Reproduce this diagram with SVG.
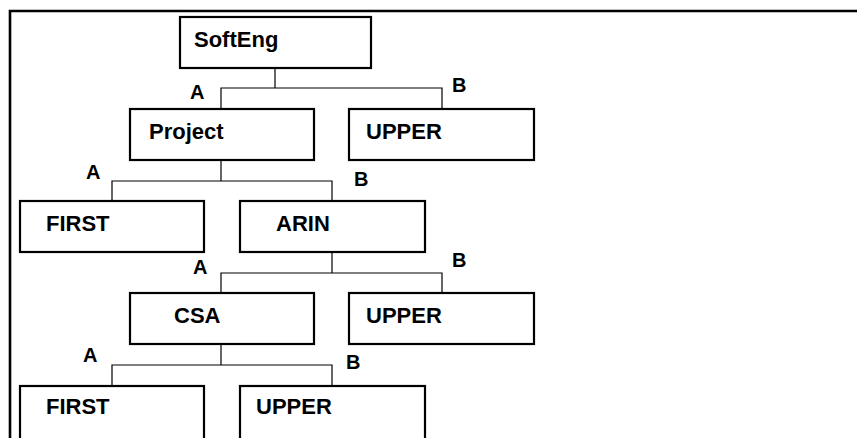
<svg xmlns="http://www.w3.org/2000/svg" width="857" height="438" viewBox="0 0 857 438">
<style>
.box{fill:#fff;stroke:#000;stroke-width:2.2}
.lbl{font-family:"Liberation Sans",Arial,sans-serif;font-weight:bold;font-size:22px;fill:#000}
.ab{font-family:"Liberation Sans",Arial,sans-serif;font-weight:bold;font-size:20px;fill:#000}
.c{fill:none;stroke:#000;stroke-width:1.2}
.frame{fill:none;stroke:#000;stroke-width:2.6}
</style>
<rect width="857" height="438" fill="#fff"/>
<path class="frame" d="M10,440 V11 H857"/>
<g id="connectors">
<path class="c" d="M275,69 V88 M221,108 V88 H442 V108"/>
<path class="c" d="M221,160 V181 M112,201 V181 H332 V201"/>
<path class="c" d="M332,252 V273 M221,293 V273 H442 V293"/>
<path class="c" d="M221,344 V365 M112,386 V365 H332 V386"/>
<text class="ab" x="190" y="99">A</text>
<text class="ab" x="452" y="92">B</text>
<text class="ab" x="86" y="179">A</text>
<text class="ab" x="354" y="186">B</text>
<text class="ab" x="193" y="274">A</text>
<text class="ab" x="452" y="267">B</text>
<text class="ab" x="83" y="362">A</text>
<text class="ab" x="346" y="369">B</text>
</g>
<g id="softeng"><rect class="box" x="180" y="17" width="191" height="51"/><text class="lbl" x="194" y="47">SoftEng</text></g>
<g id="project"><rect class="box" x="130" y="109" width="184" height="51"/><text class="lbl" x="149" y="139">Project</text></g>
<g id="upper1"><rect class="box" x="349" y="109" width="185" height="51"/><text class="lbl" x="366" y="139">UPPER</text></g>
<g id="first1"><rect class="box" x="20" y="201" width="184" height="51"/><text class="lbl" x="46" y="231">FIRST</text></g>
<g id="arin"><rect class="box" x="240" y="201" width="185" height="51"/><text class="lbl" x="276" y="231">ARIN</text></g>
<g id="csa"><rect class="box" x="130" y="293" width="184" height="51"/><text class="lbl" x="174" y="323">CSA</text></g>
<g id="upper2"><rect class="box" x="349" y="293" width="185" height="51"/><text class="lbl" x="366" y="323">UPPER</text></g>
<g id="first2"><rect class="box" x="20" y="386" width="184" height="60"/><text class="lbl" x="46" y="414">FIRST</text></g>
<g id="upper3"><rect class="box" x="240" y="386" width="185" height="60"/><text class="lbl" x="256" y="414">UPPER</text></g>
</svg>
